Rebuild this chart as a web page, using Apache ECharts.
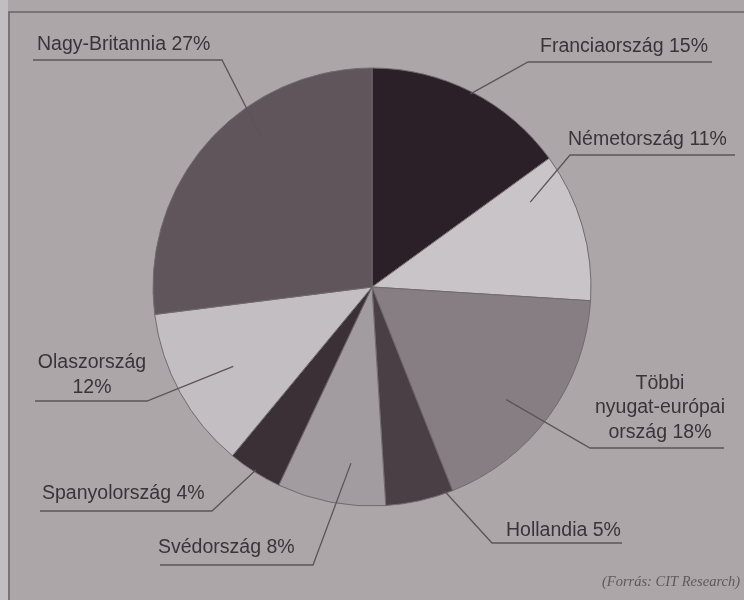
<!DOCTYPE html>
<html><head><meta charset="utf-8">
<script src="https://cdn.jsdelivr.net/npm/echarts@6/dist/echarts.min.js"></script>
<style>html,body{margin:0;padding:0;background:#aca6a9}#c{width:744px;height:600px}</style>
</head><body><div id="c"></div>
<script>
// ---- data ----
const categories = ['Franciaország','Németország','Többi nyugat-európai ország','Hollandia','Svédország','Spanyolország','Olaszország','Nagy-Britannia'];
const shares = [15, 11, 18, 5, 8, 4, 12, 27];
const labelNames = ['Franciaország','Németország','Többi\nnyugat-európai\nország','Hollandia','Svédország','Spanyolország','Olaszország\n','Nagy-Britannia'];
const sourceText = '(Forrás: CIT Research)';

// ---- style / layout ----
const sliceColors = ['#2b2027','#c9c4c7','#877e83','#4a3f45','#a29b9f','#3b3035','#c3bec1','#5f555a'];
const CX = 372, CY = 287, R = 219;
const labelPos = [
  {x:540, y:47,  align:'left',   line:[[528,62],[712,62]],   f:0.99, da:0},
  {x:568, y:140, align:'left',   line:[[570,155],[735,155]], f:0.82, da:-12},
  {x:660, y:408, align:'center', line:[[590,448],[724,448]], f:0.80, da:4},
  {x:506, y:531, align:'left',   line:[[492,543],[622,543]], f:0.99, da:-7},
  {x:158, y:548, align:'left',   line:[[313,565],[160,565]], f:0.81, da:-4},
  {x:42,  y:494, align:'left',   line:[[212,511],[40,511]],  f:0.99, da:0},
  {x:92,  y:375, align:'center', line:[[147,401],[35,401]],  f:0.73, da:-1},
  {x:37,  y:45,  align:'left',   line:[[222,60],[33,60]],    f:0.84, da:12}
];

const total = shares.reduce((a,b)=>a+b,0);
const cum = [];
shares.reduce((acc,v,i)=>{cum[i]=acc; return acc+v;},0);

const pieBase = {
  type: 'pie', center: [CX, CY], radius: R, startAngle: 90, clockwise: true,
  avoidLabelOverlap: false, silent: true
};

const chart = echarts.init(document.getElementById('c'));
chart.setOption({
  backgroundColor: '#aca6a9',
  animation: false,
  graphic: [
    {type:'rect', shape:{x:0,y:0,width:8,height:600}, style:{fill:'#c2bdc0'}, z:-1},
    {type:'rect', shape:{x:9,y:12,width:760,height:620}, style:{fill:null, stroke:'#686265', lineWidth:1.5}},
    {type:'text', x:740, y:582, style:{text:sourceText, textAlign:'right', textVerticalAlign:'middle',
      font:'italic 14.5px "Liberation Serif"', fill:'#5f595c'}}
  ],
  series: [
    Object.assign({}, pieBase, {
      z: 2,
      data: categories.map((c,i)=>({name:c, value:shares[i], itemStyle:{color:sliceColors[i]}})),
      itemStyle: {borderColor:'#716a6e', borderWidth:1},
      label: {show:false}, labelLine: {show:false}
    }),
    Object.assign({}, pieBase, {
      z: 5,
      data: categories.map((c,i)=>({name:c, value:shares[i]})),
      itemStyle: {color:'rgba(0,0,0,0)', borderWidth:0},
      label: {
        show: true,
        position: 'outside',
        formatter: p => {
          const n = labelNames[p.dataIndex];
          return n + (n.endsWith('\n') ? '' : ' ') + p.value + '%';
        },
        color: '#3a3438',
        fontSize: 19.5,
        fontFamily: '"Liberation Sans", Arial, sans-serif',
        lineHeight: 24.5
      },
      labelLine: {show:true, lineStyle:{color:'#5b5559', width:1.3}},
      labelLayout: function(p){
        const L = labelPos[p.dataIndex];
        const mid = (cum[p.dataIndex] + shares[p.dataIndex]/2)/total*360 + L.da;
        const a = mid*Math.PI/180;
        const ax = CX + L.f*R*Math.sin(a), ay = CY - L.f*R*Math.cos(a);
        return {x:L.x, y:L.y, align:L.align, verticalAlign:'middle',
          labelLinePoints:[[ax,ay], L.line[0], L.line[1]], hideOverlap:false, moveOverlap:null};
      }
    })
  ]
});
</script></body></html>
